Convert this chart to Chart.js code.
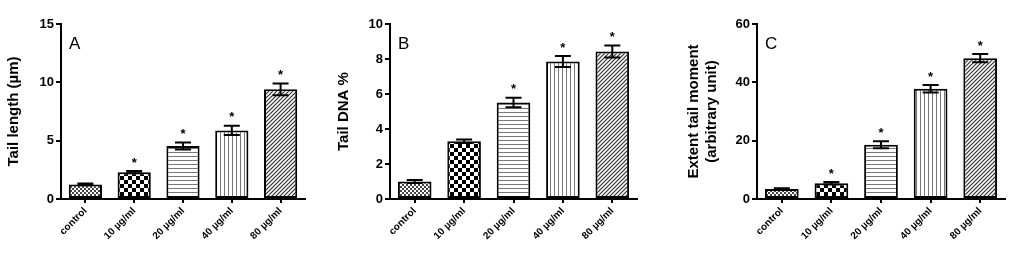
<!DOCTYPE html>
<html lang="en">
<head>
  <meta charset="UTF-8">
  <title>Comet assay</title>
  <script src="https://cdn.jsdelivr.net/npm/chart.js"></script>
  <style>
    body { margin: 0; background: #fff; }
    .panel { position: absolute; top: 0; height: 257px; }
  </style>
</head>
<body>
  <div class="panel" style="left:0;width:320px"><canvas id="chartA"></canvas></div>
  <div class="panel" style="left:330px;width:320px"><canvas id="chartB"></canvas></div>
  <div class="panel" style="left:680px;width:334px"><canvas id="chartC"></canvas></div>

  <script>
    const categories = ['control', '10 µg/ml', '20 µg/ml', '40 µg/ml', '80 µg/ml'];

    // panel A - tail length
    const tailLength = [1.25, 2.3, 4.55, 5.88, 9.4];
    const tailLengthErr = [0.08, 0.1, 0.3, 0.4, 0.5];
    const tailLengthStars = [false, true, true, true, true];

    // panel B - tail DNA %
    const tailDna = [1.0, 3.3, 5.52, 7.86, 8.43];
    const tailDnaErr = [0.08, 0.1, 0.27, 0.31, 0.34];
    const tailDnaStars = [false, false, true, true, true];

    // panel C - extent tail moment
    const tailMoment = [3.4, 5.4, 18.6, 37.8, 48.3];
    const tailMomentErr = [0.3, 0.4, 1.2, 1.3, 1.4];
    const tailMomentStars = [false, true, true, true, true];

    const FONT = 'Arial, "Liberation Sans", sans-serif';

    // small fill patterns for the bars
    function makePattern(size, draw) {
      const c = document.createElement('canvas');
      c.width = size; c.height = size;
      const g = c.getContext('2d');
      g.fillStyle = '#fff';
      g.fillRect(0, 0, size, size);
      draw(g);
      return g.createPattern(c, 'repeat');
    }
    const patterns = [
      makePattern(4, g => { g.fillStyle = '#444'; g.fillRect(0, 0, 2, 2); g.fillRect(2, 2, 2, 2); }),
      makePattern(8, g => { g.fillStyle = '#000'; g.fillRect(0, 0, 4, 4); g.fillRect(4, 4, 4, 4); }),
      makePattern(4, g => { g.fillStyle = '#777'; g.fillRect(0, 0, 4, 1); }),
      makePattern(4, g => { g.fillStyle = '#777'; g.fillRect(0, 0, 1, 4); }),
      makePattern(4, g => {
        g.strokeStyle = '#333'; g.lineWidth = 1.2;
        g.beginPath(); g.moveTo(-1, 5); g.lineTo(5, -1); g.stroke();
        g.beginPath(); g.moveTo(-1, 1); g.lineTo(1, -1); g.stroke();
        g.beginPath(); g.moveTo(3, 5); g.lineTo(5, 3); g.stroke();
      })
    ];

    // error bars, significance stars and panel letter
    const extrasPlugin = {
      id: 'extras',
      afterDatasetsDraw(chart, args, opts) {
        const ctx = chart.ctx;
        const y = chart.scales.y;
        const meta = chart.getDatasetMeta(0);
        const values = chart.data.datasets[0].data;
        ctx.save();
        ctx.strokeStyle = '#000';
        ctx.lineWidth = 2;
        meta.data.forEach((bar, i) => {
          const top = y.getPixelForValue(values[i] + opts.errors[i]);
          const bottom = y.getPixelForValue(values[i] - opts.errors[i]);
          ctx.beginPath();
          ctx.moveTo(bar.x, top); ctx.lineTo(bar.x, bottom);
          ctx.moveTo(bar.x - 8, top); ctx.lineTo(bar.x + 8, top);
          ctx.moveTo(bar.x - 8, bottom); ctx.lineTo(bar.x + 8, bottom);
          ctx.stroke();
          if (opts.stars[i]) {
            ctx.fillStyle = '#000';
            ctx.font = 'bold 13px ' + FONT;
            ctx.textAlign = 'center';
            ctx.textBaseline = 'middle';
            ctx.fillText('*', bar.x, top - 8);
          }
        });
        ctx.fillStyle = '#000';
        ctx.font = '17px ' + FONT;
        ctx.textAlign = 'left';
        ctx.textBaseline = 'middle';
        ctx.fillText(opts.letter, chart.chartArea.left + 8, 44);
        ctx.restore();
      }
    };

    function drawPanel(id, values, errors, stars, letter, yMax, yStep, yTitle, yWidth, padRight) {
      const ctx = document.getElementById(id).getContext('2d');
      return new Chart(ctx, {
        type: 'bar',
        data: {
          labels: categories,
          datasets: [{
            data: values,
            backgroundColor: patterns,
            borderColor: '#000',
            borderWidth: 2,
            borderSkipped: false,
            barPercentage: 0.68,
            categoryPercentage: 1
          }]
        },
        options: {
          responsive: true,
          maintainAspectRatio: false,
          animation: false,
          layout: { padding: { top: 24, right: padRight, bottom: 0, left: 0 } },
          plugins: {
            legend: { display: false },
            tooltip: { enabled: false },
            extras: { errors: errors, stars: stars, letter: letter }
          },
          scales: {
            x: {
              grid: { display: true, drawOnChartArea: false, offset: false, color: '#000', lineWidth: 2, tickLength: 4 },
              border: { color: '#000', width: 2 },
              ticks: {
                color: '#000', font: { family: FONT, size: 10, weight: 'bold' },
                minRotation: 45, maxRotation: 45, autoSkip: false, padding: 2
              },
              afterFit(scale) { scale.height = 58; }
            },
            y: {
              min: 0, max: yMax,
              grid: { display: true, drawOnChartArea: false, color: '#000', lineWidth: 2, tickLength: 5 },
              border: { color: '#000', width: 2 },
              ticks: { stepSize: yStep, color: '#000', font: { family: FONT, size: 13, weight: 'bold' }, padding: 2 },
              title: { display: true, text: yTitle, color: '#000', font: { family: FONT, size: 15, weight: 'bold' }, padding: { top: 5, bottom: 0 } },
              afterFit(scale) { scale.width = yWidth; }
            }
          }
        },
        plugins: [extrasPlugin]
      });
    }

    drawPanel('chartA', tailLength, tailLengthErr, tailLengthStars, 'A', 15, 5, 'Tail length (µm)', 61, 15);
    drawPanel('chartB', tailDna, tailDnaErr, tailDnaStars, 'B', 10, 2, 'Tail DNA %', 60, 13);
    drawPanel('chartC', tailMoment, tailMomentErr, tailMomentStars, 'C', 60, 20, ['Extent tail moment', '(arbitrary unit)'], 77, 9);
  </script>
</body>
</html>
